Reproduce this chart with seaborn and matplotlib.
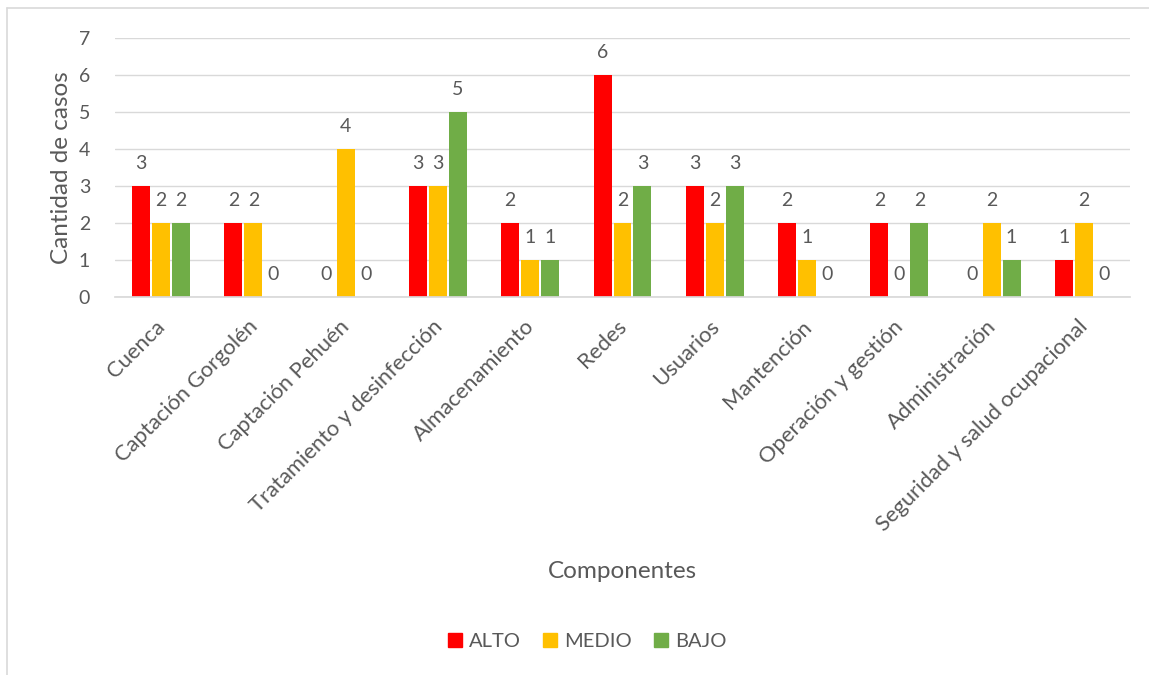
import matplotlib
matplotlib.use("Agg")
import matplotlib.pyplot as plt
import matplotlib.transforms as mtransforms
import seaborn as sns
import pandas as pd
from matplotlib.lines import Line2D

categories = ["Cuenca", "Captación Gorgolén", "Captación Pehuén", "Tratamiento y desinfección",
              "Almacenamiento", "Redes", "Usuarios", "Mantención", "Operación y gestión",
              "Administración", "Seguridad y salud ocupacional"]
alto = [3, 2, 0, 3, 2, 6, 3, 2, 2, 0, 1]
medio = [2, 2, 4, 3, 1, 2, 2, 1, 0, 2, 2]
bajo = [2, 0, 0, 5, 1, 3, 3, 0, 2, 1, 0]
series = ["ALTO", "MEDIO", "BAJO"]
colors = ["#FF0000", "#FFC000", "#70AD47"]

rows = []
for name, vals in zip(series, [alto, medio, bajo]):
    for c, v in zip(categories, vals):
        rows.append({"Componente": c, "Nivel": name, "Casos": v})
df = pd.DataFrame(rows)

sns.set_theme(style="white")
plt.rcParams["font.family"] = ["Lato", "DejaVu Sans"]
txt = "#595959"

fig = plt.figure(figsize=(11.49, 6.75), dpi=100)
ax = fig.add_axes([115/1149, 1-297/675, (1130-115)/1149, (297-38)/675])

sns.barplot(data=df, x="Componente", y="Casos", hue="Nivel", order=categories,
            hue_order=series, palette=colors, width=0.65, gap=0.1, ax=ax,
            saturation=1, legend=False, linewidth=0)

for cont in ax.containers:
    ax.bar_label(cont, padding=10, fontsize=14, color=txt)

ax.set_ylim(0, 7)
ax.set_yticks(range(0, 8))
ax.yaxis.grid(True, color="#D9D9D9", linewidth=1)
ax.set_axisbelow(True)
for s in ["top", "right", "left"]:
    ax.spines[s].set_visible(False)
ax.spines["bottom"].set_color("#D9D9D9")
ax.tick_params(axis="y", length=0, labelsize=14, colors=txt, pad=18)
ax.set_xticks(range(len(categories)))
ax.set_xticklabels(categories, rotation=45, ha="right", rotation_mode="anchor")
ax.tick_params(axis="x", length=0, labelsize=15.8, colors=txt, pad=14)
offset = mtransforms.ScaledTranslation(-6/100, 0, fig.dpi_scale_trans)
for lab in ax.get_xticklabels():
    lab.set_transform(lab.get_transform() + offset)
ax.set_xlabel("")
ax.set_ylabel("")

fig.text(62/1149, 1-168/675, "Cantidad de casos", rotation=90, ha="center", va="center",
         fontsize=17.5, color=txt)
fig.text(622/1149, 1-572/675, "Componentes", ha="center", va="center", fontsize=17.5, color=txt)

handles = [Line2D([0], [0], marker="s", linestyle="", markersize=10.5,
                  markerfacecolor=c, markeredgecolor=c) for c in colors]
fig.legend(handles, series, loc="center", bbox_to_anchor=(587/1149, 1-641/675), ncol=3,
           frameon=False, fontsize=14.5, labelcolor=txt, handlelength=0.75,
           handletextpad=0.3, columnspacing=1.1)

fig.add_artist(Line2D([7/1149, 1], [1-8/675, 1-8/675], color="#D9D9D9", linewidth=1.2,
                      transform=fig.transFigure))
fig.add_artist(Line2D([7/1149, 7/1149], [0, 1-8/675], color="#D9D9D9", linewidth=1.2,
                      transform=fig.transFigure))

fig.savefig("out.png", dpi=100, facecolor="white")
